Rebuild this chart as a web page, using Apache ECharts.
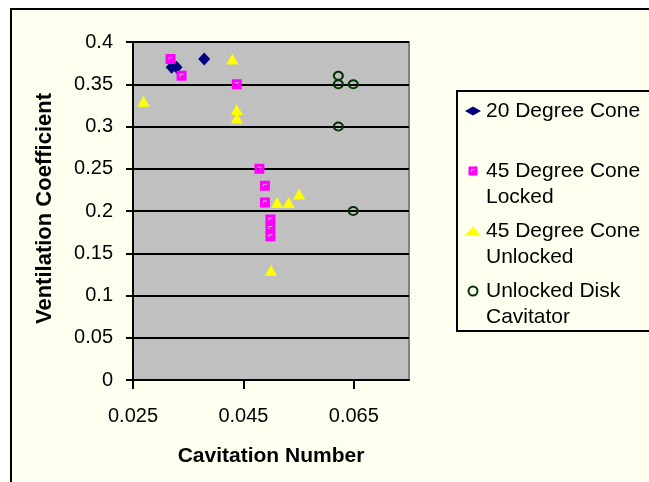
<!DOCTYPE html>
<html>
<head>
<meta charset="utf-8">
<script src="https://cdn.jsdelivr.net/npm/echarts@6/dist/echarts.min.js"></script>
<style>
  html, body { margin: 0; padding: 0; background: #ffffff; overflow: hidden; }
  #frame { position: absolute; left: 10px; top: 8px; width: 700px; height: 520px;
           border: 2px solid #000; background: #FFFFF0; }
  #legendBox { position: absolute; left: 456px; top: 90px; width: 300px; height: 238px;
               border: 2px solid #000; background: #FFFFF0; }
  #chart { position: absolute; left: 0; top: 0; width: 649px; height: 482px; }
</style>
</head>
<body>
<div id="frame"></div>
<div id="legendBox"></div>
<div id="chart"></div>
<script>
// Series values
const cone20X = [0.0320, 0.0329, 0.0379];
const cone20Y = [0.37, 0.37, 0.38];

const lockedX = [0.0318, 0.0338, 0.0438, 0.0479, 0.0489, 0.0489, 0.0499, 0.0499, 0.0499];
const lockedY = [0.38, 0.36, 0.35, 0.25, 0.23, 0.21, 0.19, 0.18, 0.17];

const unlockedX = [0.0430, 0.0269, 0.0438, 0.0438, 0.0511, 0.0532, 0.0551, 0.0500];
const unlockedY = [0.38, 0.33, 0.32, 0.31, 0.21, 0.21, 0.22, 0.13];

const diskX = [0.0622, 0.0622, 0.0649, 0.0622, 0.0649];
const diskY = [0.36, 0.35, 0.35, 0.30, 0.20];

const seriesNames = ['20 Degree Cone', '45 Degree Cone Locked', '45 Degree Cone Unlocked', 'Unlocked Disk Cavitator'];
const legendFirstLine = ['20 Degree Cone', '45 Degree Cone', '45 Degree Cone', 'Unlocked Disk'];
const legendSecondLine = ['', 'Locked', 'Unlocked', 'Cavitator'];

const xTicks = { min: 0.025, max: 0.075, interval: 0.02 };
const yTicks = { min: 0, max: 0.4, interval: 0.05 };

const pairs = (xs, ys) => xs.map((x, i) => [x, ys[i]]);

// square marker with a small light corner mark inside
const lockedSymbol = 'path://M0 0H10V10H0Z M3 3V6H4V4H7V3Z';

const font = '"Liberation Sans", Arial, sans-serif';

const chart = echarts.init(document.getElementById('chart'), null, { renderer: 'canvas' });

const option = {
  backgroundColor: 'transparent',
  animation: false,
  grid: {
    left: 133, right: 240, top: 42, bottom: 102,
    show: true,
    backgroundColor: '#C0C0C0',
    borderColor: '#808080',
    borderWidth: 2,
  },
  xAxis: {
    type: 'value',
    min: xTicks.min,
    max: xTicks.max,
    interval: xTicks.interval,
    name: 'Cavitation Number',
    nameLocation: 'middle',
    nameGap: 66,
    nameTextStyle: { color: '#000', fontFamily: font, fontSize: 21, fontWeight: 'bold' },
    axisLine: { lineStyle: { color: '#000', width: 2 } },
    axisTick: { show: true, length: 9, inside: false, lineStyle: { color: '#000', width: 2 } },
    axisLabel: {
      color: '#000', fontFamily: font, fontSize: 20, margin: 26,
      showMaxLabel: false,
      formatter: (v) => v.toFixed(3),
    },
    splitLine: { show: false },
  },
  yAxis: {
    type: 'value',
    min: yTicks.min,
    max: yTicks.max,
    interval: yTicks.interval,
    axisLine: { show: true, lineStyle: { color: '#000', width: 2 } },
    axisTick: { show: true, length: 7, lineStyle: { color: '#000', width: 2 } },
    axisLabel: { color: '#000', fontFamily: font, fontSize: 20, margin: 20 },
    splitLine: { show: true, lineStyle: { color: '#000', width: 2 } },
  },
  legend: {
    orient: 'vertical',
    left: 465,
    top: 99,
    itemWidth: 16,
    itemHeight: 9,
    itemGap: 36,
    padding: 0,
    data: seriesNames,
    formatter: (name) => legendFirstLine[seriesNames.indexOf(name)],
    textStyle: { color: '#000', fontFamily: font, fontSize: 21, lineHeight: 24 },
  },
  graphic: [
    {
      type: 'text',
      left: 34, top: 93,
      rotation: Math.PI / 2,
      style: {
        text: 'Ventilation Coefficient',
        fill: '#000', font: 'bold 22px "Liberation Sans", Arial, sans-serif',
      },
    },
  ].concat(legendSecondLine.map((t, i) => ({
    type: 'text',
    x: 486, y: [0, 197, 257, 317][i],
    style: {
      text: t, fill: '#000', verticalAlign: 'middle',
      font: '21px "Liberation Sans", Arial, sans-serif',
    },
  }))),
  series: [
    {
      name: seriesNames[0], type: 'scatter',
      data: pairs(cone20X, cone20Y),
      symbol: 'diamond', symbolSize: [12, 13],
      itemStyle: { color: '#000080', opacity: 1 },
    },
    {
      name: seriesNames[1], type: 'scatter',
      data: pairs(lockedX, lockedY),
      symbol: lockedSymbol, symbolSize: 10,
      itemStyle: { color: '#FF00FF', opacity: 1 },
    },
    {
      name: seriesNames[2], type: 'scatter',
      data: pairs(unlockedX, unlockedY),
      symbol: 'triangle', symbolSize: [12, 11],
      itemStyle: { color: '#FFFF00', opacity: 1 },
    },
    {
      name: seriesNames[3], type: 'scatter',
      data: pairs(diskX, diskY),
      symbol: 'circle', symbolSize: [9, 8],
      itemStyle: { color: 'transparent', borderColor: '#003300', borderWidth: 2, opacity: 1 },
    },
  ],
};

chart.setOption(option);
</script>
</body>
</html>
